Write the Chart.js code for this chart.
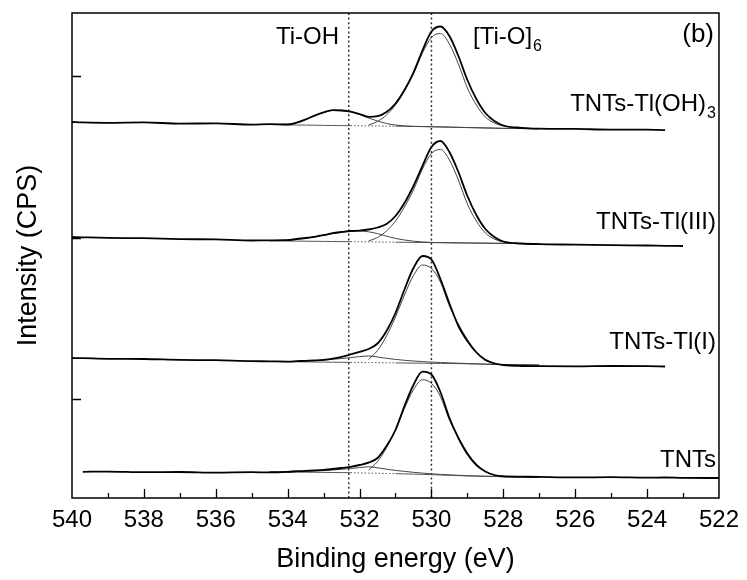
<!DOCTYPE html>
<html>
<head>
<meta charset="utf-8">
<script src="https://cdn.jsdelivr.net/npm/chart.js@4.4.0/dist/chart.umd.min.js"></script>
<style>
  html, body { margin: 0; padding: 0; background: #fff; }
  #wrap { width: 747px; height: 580px; }
</style>
</head>
<body>
<div id="wrap"><canvas id="xpsChart"></canvas></div>
<script>
// binding energies (eV) for the measured scans and for the fitted components
const scanEnergy = [540, 539.7, 539, 538, 537, 536, 535, 534.5, 534, 533.75, 533.5, 533.25, 533, 532.75, 532.5, 532.25, 532, 531.75, 531.5, 531.25, 531, 530.75, 530.5, 530.25, 530, 529.75, 529.5, 529.25, 529, 528.75, 528.5, 528.25, 528, 527.5, 527, 526, 525, 524, 523.5, 523, 522];
const fitEnergy = [534.5, 534, 533.75, 533.5, 533.25, 533, 532.75, 532.5, 532.25, 532, 531.75, 531.5, 531.25, 531, 530.75, 530.5, 530.25, 530, 529.75, 529.5, 529.25, 529, 528.75, 528.5, 528.25, 528, 527.5, 527];

// TNTs-Tl(OH)3 (stacked, arbitrary offset units)
const tlohRaw = [376, 375.6, 375.2, 375.6, 374.4, 374.6, 373.4, 373.9, 373.5, 375.4, 378.6, 382.4, 385.6, 387.8, 387.5, 386.4, 384, 381.2, 381.8, 386, 394.5, 408, 425.5, 447.5, 466.5, 471.5, 462, 442, 418, 399, 385, 377, 372.5, 370.2, 369.4, 369.1, 368.4, 368.4, 367.8, null, null];
const tlohTiOH = [373.6, 373.7, 375.5, 378.5, 382.5, 385.5, 387.5, 387.7, 386.5, 383.5, 380, 377, 374.5, 373, 372.1, 371.7, 371.5, 371.3, 371.1, 370.9, 370.7, 370.5, 370.3, 370.1, 369.9, 369.7, 369.5, 369.3];
const tlohTiO = [null, null, null, null, null, null, null, null, null, null, 373, 376.5, 383, 393, 407, 424, 445, 460.5, 464.5, 454, 434, 410, 393, 381, 375, 372, 370, 369.3];
const tlohBase = [373.5, 373.2, 373, 372.9, 372.8, 372.6, 372.5, 372.4, 372.3, 372.2, 372.1, 372, 371.9, 371.8, 371.7, 371.5, 371.4, 371.2, 371, 370.8, 370.6, 370.4, 370.2, 370, 369.8, 369.6, 369.4, 369.2];

// TNTs-Tl(III)
const tl3Raw = [261, 260.7, 260.1, 259.8, 258.9, 258.6, 257.5, 257.7, 257.8, 259, 260, 261.2, 262.8, 264.8, 266, 267, 267.4, 268.5, 270.5, 274, 282, 295, 312, 332, 351, 357, 346, 326, 302, 283, 269, 261, 256.5, 254.5, 253.8, 253.4, 252.8, 252.5, 252.2, 252, null];
const tl3TiOH = [257.4, 258, 258.8, 259.8, 261.2, 262.8, 264.4, 265.8, 266.8, 267, 266.2, 264.4, 261.8, 259.6, 258, 256.8, 256.1, 255.6, 255.4, 255.25, 255.15, 255.05, 254.95, 254.85, 254.75, 254.65, 254.45, 254.25];
const tl3TiO = [null, null, null, null, null, null, null, null, null, null, 257, 260.5, 267, 277, 291, 308, 329, 344.5, 348.5, 338, 318, 294, 277, 265, 259, 256, 254.4, 254.2];
const tl3Base = [257.2, 257, 256.9, 256.8, 256.7, 256.6, 256.5, 256.4, 256.3, 256.2, 256.1, 256, 255.9, 255.8, 255.7, 255.6, 255.5, 255.4, 255.3, 255.2, 255.1, 255, 254.9, 254.8, 254.7, 254.6, 254.4, 254.2];

// TNTs-Tl(I)
const tl1Raw = [140, 139.8, 139.2, 139, 138.1, 137.8, 136.8, 136.7, 136.4, 136.8, 137.2, 137.6, 138.2, 139.4, 141.2, 143.6, 146.2, 149, 154.5, 167, 185, 208.5, 230, 242, 238.5, 219, 194.5, 172, 157, 145.5, 138, 134.5, 133, 132, 131.8, 131.6, 132, 131.8, 131.5, null, null];
const tl1TiOH = [136.5, 136.4, 136.5, 136.8, 137.3, 137.9, 138.7, 139.5, 140.4, 141.4, 142, 141, 139.7, 138.6, 137.7, 137, 136.4, 135.9, 135.5, 135.1, 134.8, 134.5, 134.2, 133.9, 133.65, 133.45, 133.15, 132.85];
const tl1TiO = [null, null, null, null, null, null, null, null, null, null, 138.5, 147.5, 162, 181, 203, 222.5, 233, 229.5, 216, 192, 174, 158.5, 146.3, 139, 135, 133.2, 133, 132.8];
const tl1Base = [136.5, 136.3, 136.2, 136.1, 136, 135.9, 135.8, 135.7, 135.6, 135.5, 135.4, 135.3, 135.2, 135.1, 135, 134.9, 134.8, 134.7, 134.6, 134.5, 134.4, 134.2, 134, 133.8, 133.6, 133.4, 133.1, 132.8];

// TNTs
const tntsRaw = [null, 26.2, 26.4, 25.8, 26, 25.4, 25.8, 25.6, 26.2, 26.8, 27.1, 27.6, 28.2, 29, 30, 31.2, 33, 35.3, 40, 52, 68, 92, 113, 126.3, 123.5, 106, 80, 60, 44, 33, 26.5, 23, 21.8, 21.4, 21.1, 20.6, 20.8, 20.3, 20.5, 20.1, 20];
const tntsTiOH = [26.2, 26.1, 26.2, 26.5, 26.9, 27.4, 28, 28.7, 29.5, 30.4, 31.2, 30.2, 28.8, 27.6, 26.6, 25.7, 24.9, 24.2, 23.6, 23.1, 22.7, 22.3, 22, 21.75, 21.55, 21.35, 21.05, 20.85];
const tntsTiO = [null, null, null, null, null, null, null, null, null, null, 27.9, 36.5, 50.3, 68.5, 89.7, 108.3, 118.3, 114.7, 101.5, 78.1, 60.6, 45.5, 33.8, 26.7, 22.85, 21.1, 21, 20.8];
const tntsBase = [26.2, 26, 25.9, 25.8, 25.7, 25.6, 25.5, 25.4, 25.3, 25.1, 24.9, 24.7, 24.5, 24.3, 24.1, 23.9, 23.6, 23.3, 23, 22.7, 22.4, 22.1, 21.9, 21.7, 21.5, 21.3, 21, 20.8];

const peakPositions = [532.3, 530.0];   // Ti-OH, [Ti-O]6 reference lines
const yTicks = [99, 260, 422];
const sampleNames = [["TNTs-Tl(OH)", "3"], ["TNTs-Tl(III)", ""], ["TNTs-Tl(I)", ""], ["TNTs", ""]];

const FONT = '"Liberation Sans", Arial, sans-serif';

function pts(energy, values) {
  return energy.map((e, i) => ({ x: e, y: values[i] })).filter(p => p.y !== null);
}

const spectra = [
  [tlohRaw, tlohTiOH, tlohTiO, tlohBase],
  [tl3Raw, tl3TiOH, tl3TiO, tl3Base],
  [tl1Raw, tl1TiOH, tl1TiO, tl1Base],
  [tntsRaw, tntsTiOH, tntsTiO, tntsBase],
];

const lineBase = { pointRadius: 0, fill: false, tension: 0.4, cubicInterpolationMode: "monotone" };
const datasets = [];
// measured curves first so they sit on top
spectra.forEach(s => datasets.push({ ...lineBase, data: pts(scanEnergy, s[0]), borderColor: "#000", borderWidth: 1.8 }));
spectra.forEach(s => {
  datasets.push({ ...lineBase, data: pts(fitEnergy, s[1]), borderColor: "#444", borderWidth: 1 });
  datasets.push({ ...lineBase, data: pts(fitEnergy, s[2]), borderColor: "#444", borderWidth: 1 });
  datasets.push({
    ...lineBase, data: pts(fitEnergy, s[3]), borderColor: "#555", borderWidth: 1,
    segment: { borderDash: c => (c.p0.parsed.x <= 532.3 && c.p1.parsed.x >= 531) ? [1.5, 2] : undefined },
  });
});
peakPositions.forEach(e => datasets.push({
  data: [{ x: e, y: 0 }, { x: e, y: 485 }], pointRadius: 0, borderColor: "#333", borderWidth: 1.5, borderDash: [2, 2.6],
}));

function textWithSub(ctx, main, sub, x, y, align, size) {
  size = size || 24;
  ctx.font = size + "px " + FONT;
  const wMain = ctx.measureText(main).width;
  ctx.font = "16px " + FONT;
  const wSub = sub ? ctx.measureText(sub).width + 1 : 0;
  const left = align === "right" ? x - wMain - wSub : x;
  ctx.textAlign = "left";
  ctx.textBaseline = "middle";
  ctx.font = size + "px " + FONT;
  ctx.fillText(main, left, y);
  if (sub) {
    ctx.font = "16px " + FONT;
    ctx.fillText(sub, left + wMain + 1, y + 10);
  }
}

const framePlugin = {
  id: "frame",
  afterDraw(chart) {
    const { ctx, chartArea: a, scales: { x, y } } = chart;
    ctx.save();
    ctx.strokeStyle = "#000";
    ctx.lineWidth = 1.5;
    ctx.strokeRect(a.left, a.top, a.right - a.left, a.bottom - a.top);
    ctx.lineWidth = 1.3;
    ctx.beginPath();
    for (let e = 523; e < 540; e++) {
      const px = Math.round(x.getPixelForValue(e)) + 0.5;
      const len = e % 2 === 0 ? 9 : 5;
      ctx.moveTo(px, a.bottom);
      ctx.lineTo(px, a.bottom - len);
    }
    yTicks.forEach(v => {
      const py = Math.round(y.getPixelForValue(v)) + 0.5;
      ctx.moveTo(a.left, py);
      ctx.lineTo(a.left + 9, py);
    });
    ctx.stroke();

    ctx.fillStyle = "#000";
    textWithSub(ctx, "Ti-OH", "", 339, 37, "right");
    textWithSub(ctx, "[Ti-O]", "6", 473, 37, "left");
    textWithSub(ctx, "(b)", "", 714, 35, "right", 26);
    const labelY = [104, 222, 342, 460];
    sampleNames.forEach((n, i) => textWithSub(ctx, n[0], n[1], 716, labelY[i], "right"));
    ctx.restore();
  },
};

new Chart(document.getElementById("xpsChart"), {
  type: "line",
  data: { datasets },
  options: {
    responsive: true,
    maintainAspectRatio: false,
    animation: false,
    layout: { padding: { top: 13, right: 23, left: 0, bottom: 0 } },
    plugins: { legend: { display: false }, tooltip: { enabled: false } },
    scales: {
      x: {
        type: "linear",
        min: 522,
        max: 540,
        reverse: true,
        grid: { display: false, drawTicks: false },
        border: { display: false },
        ticks: { stepSize: 2, color: "#000", padding: 8, font: { family: FONT, size: 24 }, maxRotation: 0 },
        title: { display: true, text: "Binding energy (eV)", color: "#000", font: { family: FONT, size: 27 }, padding: { top: 0, bottom: 4 } },
        afterFit(scale) { scale.height = 82; },
      },
      y: {
        min: 0,
        max: 485,
        grid: { display: false, drawTicks: false },
        border: { display: false },
        ticks: { display: false },
        title: { display: true, text: "Intensity (CPS)", color: "#000", font: { family: FONT, size: 27 }, padding: { top: 12, bottom: 0 } },
        afterFit(scale) { scale.width = 72; },
      },
    },
  },
  plugins: [framePlugin],
});
</script>
</body>
</html>
